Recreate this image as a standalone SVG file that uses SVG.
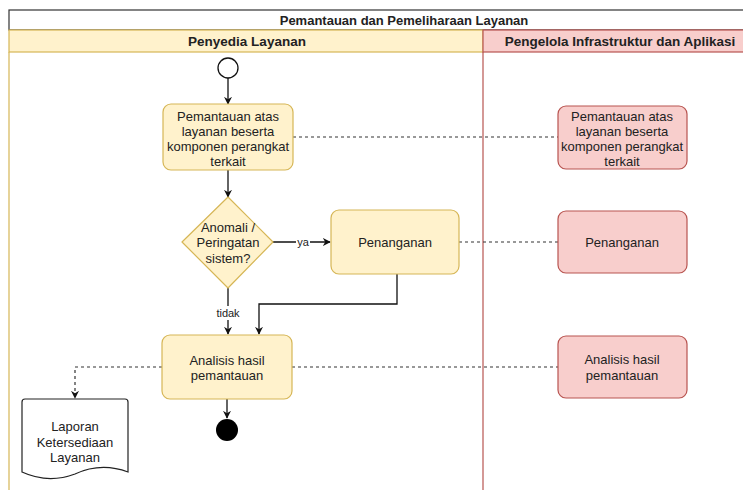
<svg xmlns="http://www.w3.org/2000/svg" width="743" height="490" viewBox="0 0 743 490">
  <style>
    text { font-family: "Liberation Sans", Arial, sans-serif; font-size: 13px; fill: #222; text-anchor: middle; dominant-baseline: central; }
    .hdr { font-weight: bold; }
    .lbl { font-size: 11px; }
    .act { fill: #fff2cc; stroke: #d6b656; stroke-width: 1.2; }
    .ext { fill: #f8cecc; stroke: #b85450; stroke-width: 1.2; }
    .flow { fill: none; stroke: #111; stroke-width: 1.3; }
    .dash { fill: none; stroke: #333; stroke-width: 1.2; stroke-dasharray: 3 3; }
  </style>
  <defs>
    <marker id="arrow" viewBox="0 0 10 10" refX="9" refY="5" markerWidth="8" markerHeight="8" orient="auto" markerUnits="userSpaceOnUse">
      <path d="M0,0 L10,5 L0,10 L3,5 Z" fill="#111"/>
    </marker>
  </defs>
  <rect width="743" height="490" fill="#ffffff"/>

  <!-- pool and lanes -->
  <g id="pool">
    <rect x="9" y="10" width="790" height="20" fill="#ffffff" stroke="#333" stroke-width="1.2"/>
    <text class="hdr" x="404" y="20">Pemantauan dan Pemeliharaan Layanan</text>
  </g>
  <g id="lane-penyedia">
    <rect x="9" y="30" width="474" height="22" fill="#fff2cc" stroke="#d6b656" stroke-width="1.2"/>
    <line x1="9" y1="52" x2="9" y2="490" stroke="#d6b656" stroke-width="1.2"/>
    <text class="hdr" x="247" y="41" style="font-size:13.5px">Penyedia Layanan</text>
  </g>
  <g id="lane-pengelola">
    <rect x="483" y="30" width="316" height="22" fill="#f8cecc" stroke="#b85450" stroke-width="1.2"/>
    <line x1="483" y1="52" x2="483" y2="490" stroke="#b85450" stroke-width="1.2"/>
    <text class="hdr" x="620" y="41" style="font-size:13.5px">Pengelola Infrastruktur dan Aplikasi</text>
  </g>

  <!-- connectors -->
  <g id="connectors">
    <line class="flow" x1="228" y1="78" x2="228" y2="104" marker-end="url(#arrow)"/>
    <line class="flow" x1="228" y1="170" x2="228" y2="197" marker-end="url(#arrow)"/>
    <line class="flow" x1="273" y1="242" x2="330" y2="242" marker-end="url(#arrow)"/>
    <line class="flow" x1="228" y1="288" x2="228" y2="334" marker-end="url(#arrow)"/>
    <polyline class="flow" points="397,274 397,304 259,304 259,334" marker-end="url(#arrow)"/>
    <line class="flow" x1="227" y1="399" x2="227" y2="418" marker-end="url(#arrow)"/>
    <polyline class="dash" points="162,367 75,367 75,398" marker-end="url(#arrow)"/>
    <line class="dash" x1="293" y1="137" x2="558" y2="137"/>
    <line class="dash" x1="459" y1="242" x2="558" y2="242"/>
    <line class="dash" x1="292" y1="367" x2="558" y2="367"/>
    <rect x="296" y="235" width="14" height="14" fill="#ffffff"/>
    <text class="lbl" x="303" y="242">ya</text>
    <rect x="214" y="306" width="28" height="14" fill="#ffffff"/>
    <text class="lbl" x="228" y="313">tidak</text>
  </g>

  <!-- nodes: Penyedia Layanan -->
  <g id="start">
    <circle cx="228" cy="68" r="10" fill="#ffffff" stroke="#111" stroke-width="1.3"/>
  </g>
  <g id="pemantauan">
    <rect class="act" x="163" y="104" width="130" height="66" rx="8"/>
    <text x="228" y="116">Pemantauan atas</text>
    <text x="228" y="131">layanan beserta</text>
    <text x="228" y="146">komponen perangkat</text>
    <text x="228" y="161">terkait</text>
  </g>
  <g id="anomali">
    <path class="act" d="M228,197 L273,242 L228,288 L182,242 Z" stroke-linejoin="round"/>
    <text x="228" y="227">Anomali /</text>
    <text x="228" y="242">Peringatan</text>
    <text x="228" y="258">sistem?</text>
  </g>
  <g id="penanganan">
    <rect class="act" x="331" y="210" width="128" height="64" rx="8"/>
    <text x="395" y="242">Penanganan</text>
  </g>
  <g id="analisis">
    <rect class="act" x="162" y="335" width="130" height="64" rx="8"/>
    <text x="227" y="360">Analisis hasil</text>
    <text x="227" y="375">pemantauan</text>
  </g>
  <g id="laporan">
    <path d="M25,399 L125,399 Q128,399 128,402 L128,472 Q101,462 75,474 Q48,484 22,472 L22,402 Q22,399 25,399 Z" fill="#ffffff" stroke="#222" stroke-width="1.2"/>
    <text x="75" y="426">Laporan</text>
    <text x="75" y="442">Ketersediaan</text>
    <text x="75" y="457">Layanan</text>
  </g>
  <g id="end">
    <circle cx="227" cy="430" r="11" fill="#000000"/>
  </g>

  <!-- nodes: Pengelola Infrastruktur dan Aplikasi -->
  <g id="pemantauan-ext">
    <rect class="ext" x="558" y="106" width="129" height="63" rx="8"/>
    <text x="622" y="116">Pemantauan atas</text>
    <text x="622" y="131">layanan beserta</text>
    <text x="622" y="146">komponen perangkat</text>
    <text x="622" y="161">terkait</text>
  </g>
  <g id="penanganan-ext">
    <rect class="ext" x="558" y="211" width="129" height="62" rx="8"/>
    <text x="622" y="242">Penanganan</text>
  </g>
  <g id="analisis-ext">
    <rect class="ext" x="558" y="336" width="129" height="62" rx="8"/>
    <text x="622" y="359">Analisis hasil</text>
    <text x="622" y="375">pemantauan</text>
  </g>
</svg>
